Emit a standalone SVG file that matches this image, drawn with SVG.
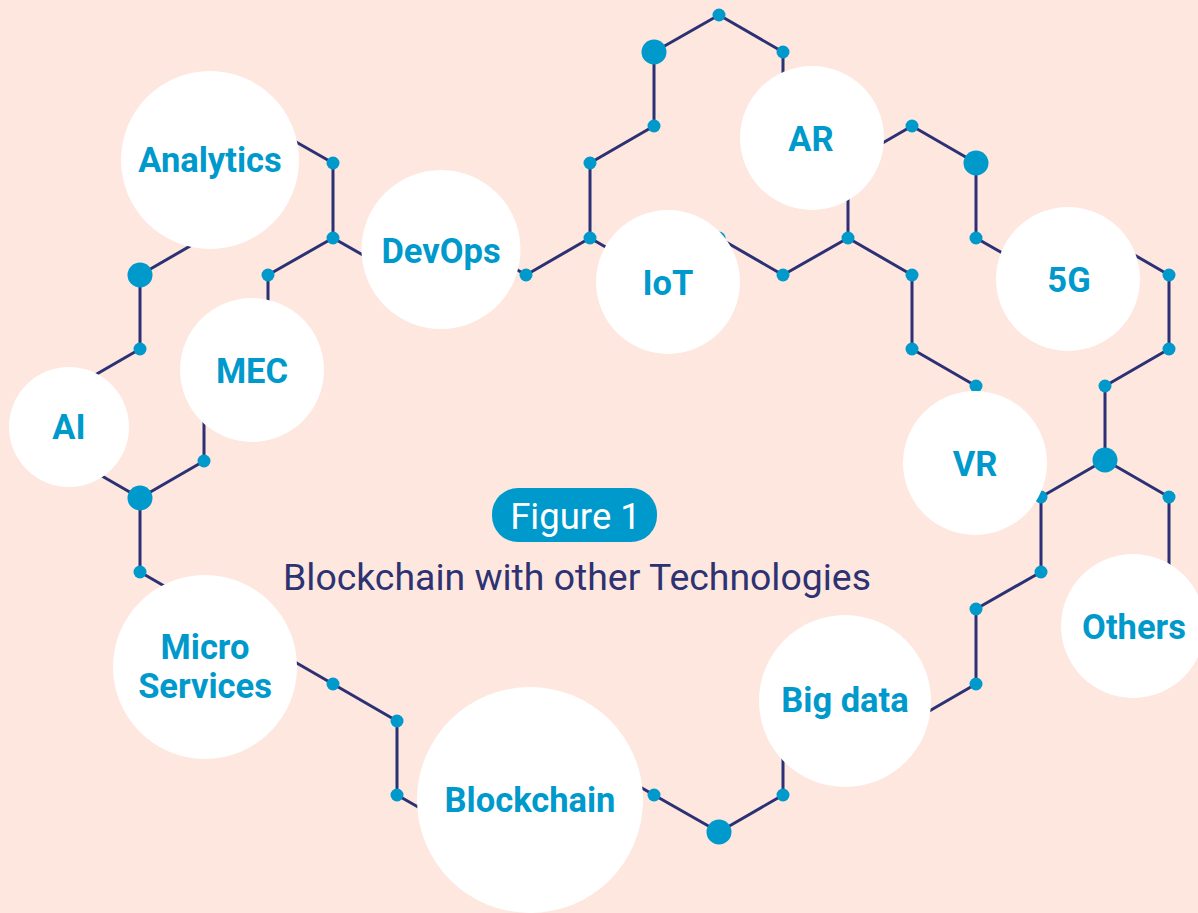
<svg xmlns="http://www.w3.org/2000/svg" width="1198" height="913" viewBox="0 0 1198 913">
<style>
.ln{fill:none;stroke:#2b3174;stroke-width:3;stroke-linejoin:round}
.d{fill:#0099cc}
.c{fill:#ffffff}
.lb{font-family:Roboto,"Liberation Sans",sans-serif;font-weight:700;font-size:34.5px;fill:#0099cc;text-anchor:middle}
</style>
<rect width="1198" height="913" fill="#fde7de"/>
<g id="connectors">
<polyline class="ln" points="268,126 333,163 333,238 268,275 268,349"/>
<polyline class="ln" points="333,238 398,275"/>
<polyline class="ln" points="204,238 140,275 140,349 76,386"/>
<polyline class="ln" points="204,386 204,461 140,498 140,572 204,609"/>
<polyline class="ln" points="140,498 76,461"/>
<polyline class="ln" points="269,647 333,684 397,721 397,795 462,832"/>
<polyline class="ln" points="590,758 654,795 719,832 783,795 783,721"/>
<polyline class="ln" points="912,721 976,684 976,609 1041,572 1041,497 1105,460 1105,386 1169,349 1169,275 1105,238"/>
<polyline class="ln" points="1105,460 1169,497 1169,572"/>
<polyline class="ln" points="1041,275 976,238 976,163 912,126 848,163"/>
<polyline class="ln" points="848,163 848,238 912,275 912,349 976,386 976,424"/>
<polyline class="ln" points="848,238 783,275 719,238 654,275"/>
<polyline class="ln" points="462,238 526,275 590,238 590,163 654,126 654,52 719,15 783,52 783,89"/>
<polyline class="ln" points="590,238 654,275"/>
</g>
<g id="dots">
<circle class="d" cx="333" cy="163" r="6.5"/>
<circle class="d" cx="333" cy="238" r="6.5"/>
<circle class="d" cx="268" cy="275" r="6.5"/>
<circle class="d" cx="140" cy="349" r="6.5"/>
<circle class="d" cx="204" cy="461" r="6.5"/>
<circle class="d" cx="140" cy="572" r="6.5"/>
<circle class="d" cx="333" cy="684" r="6.5"/>
<circle class="d" cx="397" cy="721" r="6.5"/>
<circle class="d" cx="397" cy="795" r="6.5"/>
<circle class="d" cx="654" cy="795" r="6.5"/>
<circle class="d" cx="783" cy="795" r="6.5"/>
<circle class="d" cx="976" cy="684" r="6.5"/>
<circle class="d" cx="976" cy="609" r="6.5"/>
<circle class="d" cx="1041" cy="572" r="6.5"/>
<circle class="d" cx="1041" cy="497" r="6.5"/>
<circle class="d" cx="1105" cy="386" r="6.5"/>
<circle class="d" cx="1169" cy="349" r="6.5"/>
<circle class="d" cx="1169" cy="275" r="6.5"/>
<circle class="d" cx="1169" cy="497" r="6.5"/>
<circle class="d" cx="976" cy="238" r="6.5"/>
<circle class="d" cx="912" cy="126" r="6.5"/>
<circle class="d" cx="912" cy="275" r="6.5"/>
<circle class="d" cx="912" cy="349" r="6.5"/>
<circle class="d" cx="976" cy="386" r="6.5"/>
<circle class="d" cx="848" cy="238" r="6.5"/>
<circle class="d" cx="783" cy="275" r="6.5"/>
<circle class="d" cx="719" cy="238" r="6.5"/>
<circle class="d" cx="590" cy="238" r="6.5"/>
<circle class="d" cx="590" cy="163" r="6.5"/>
<circle class="d" cx="654" cy="126" r="6.5"/>
<circle class="d" cx="719" cy="15" r="6.5"/>
<circle class="d" cx="783" cy="52" r="6.5"/>
<circle class="d" cx="526" cy="275" r="6.5"/>
<circle class="d" cx="140" cy="275" r="12.5"/>
<circle class="d" cx="140" cy="498" r="12.5"/>
<circle class="d" cx="719" cy="832" r="12.5"/>
<circle class="d" cx="1105" cy="460" r="12.5"/>
<circle class="d" cx="976" cy="163" r="12.5"/>
<circle class="d" cx="654" cy="52" r="12.5"/>
</g>
<g id="analytics"><circle class="c" cx="210" cy="160" r="89"/><text class="lb" x="210" y="172">Analytics</text></g>
<g id="devops"><circle class="c" cx="441" cy="249.5" r="79.5"/><text class="lb" x="441" y="263">DevOps</text></g>
<g id="mec"><circle class="c" cx="252" cy="370" r="72"/><text class="lb" x="252" y="383">MEC</text></g>
<g id="ai"><circle class="c" cx="69" cy="427" r="60"/><text class="lb" x="69" y="439">AI</text></g>
<g id="microservices"><circle class="c" cx="205" cy="667" r="92"/><text class="lb" x="205" y="659">Micro</text><text class="lb" x="205" y="698">Services</text></g>
<g id="blockchain"><circle class="c" cx="530" cy="800" r="113"/><text class="lb" x="530" y="812">Blockchain</text></g>
<g id="bigdata"><circle class="c" cx="845" cy="701" r="86"/><text class="lb" x="845" y="712">Big data</text></g>
<g id="iot"><circle class="c" cx="668" cy="282" r="72"/><text class="lb" x="668" y="295">IoT</text></g>
<g id="ar"><circle class="c" cx="812" cy="138" r="72"/><text class="lb" x="811" y="151">AR</text></g>
<g id="g5"><circle class="c" cx="1068" cy="279" r="72"/><text class="lb" x="1069" y="292">5G</text></g>
<g id="vr"><circle class="c" cx="975" cy="463" r="72"/><text class="lb" x="975" y="476">VR</text></g>
<g id="others"><circle class="c" cx="1133" cy="626" r="72"/><text class="lb" x="1134" y="639">Others</text></g>
<g id="title">
<rect x="492" y="488" width="165" height="54" rx="26" fill="#0099cc"/>
<text x="575.5" y="529" font-family="Roboto,'Liberation Sans',sans-serif" font-size="36.5" fill="#ffffff" text-anchor="middle">Figure 1</text>
<text x="577" y="590" font-family="Roboto,'Liberation Sans',sans-serif" font-size="37" fill="#2d3272" text-anchor="middle" textLength="588" lengthAdjust="spacingAndGlyphs">Blockchain with other Technologies</text>
</g>
</svg>
